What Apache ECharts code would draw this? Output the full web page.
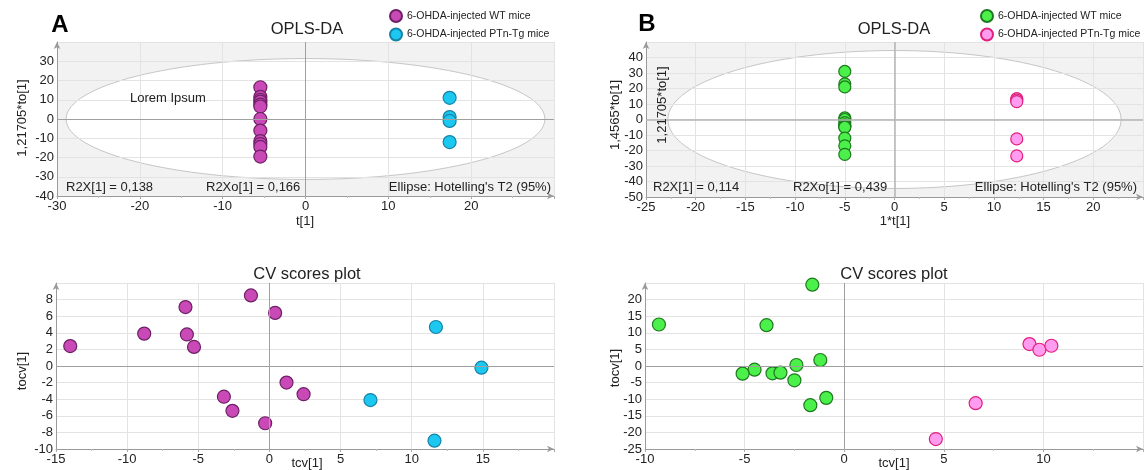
<!DOCTYPE html>
<html>
<head>
<meta charset="utf-8">
<script src="https://cdn.jsdelivr.net/npm/echarts@6/dist/echarts.min.js"></script>
<style>
  html, body { margin: 0; padding: 0; background: #fff; }
  #main { width: 1144px; height: 470px; }
</style>
</head>
<body>
<div id="main"></div>
<script>
// OPLS-DA scores, panel A (t[1] is the same for a whole group)
const aWtT = -5.45;
const aWtTo = [16.5, 11.5, 10, 9, 7.5, 6.5, 0, -6, -11.5, -13, -14.5, -19.5];
const aTgT = 17.4;
const aTgTo = [11, 1, -1, -12];
// OPLS-DA scores, panel B
const bWtT = -5;
const bWtTo = [31, 23, 21, 1, 0, -2, -3.5, -4.5, -5, -12, -17, -22.5];
const bTgT = 12.3;
const bTgTo = [13.5, 12.5, 11.5, -12.5, -23.5];
// Hotelling's T2 ellipse: center x, center y, radius x, radius y
const aEllipse = [0, 0, 28.9, 31.4];
const bEllipse = [0, 0, 22.8, 44.5];
// CV scores, panel A
const aCvWtX = [-14, -8.8, -5.9, -5.8, -5.3, -1.3, 0.4, 1.2, 2.4, -3.2, -2.6, -0.3];
const aCvWtY = [2.4, 3.9, 7.1, 3.8, 2.3, 8.5, 6.4, -2, -3.4, -3.7, -5.4, -6.9];
const aCvTgX = [11.7, 14.9, 7.1, 11.6];
const aCvTgY = [4.7, -0.2, -4.1, -9];
// CV scores, panel B
const bCvWtX = [-9.3, -1.6, -3.9, -1.2, -2.4, -4.5, -5.1, -3.6, -3.2, -2.5, -1.7, -0.9];
const bCvWtY = [12.5, 24.5, 12.3, 1.8, 0.3, -1.1, -2.3, -2.2, -2, -4.3, -11.8, -9.6];
const bCvTgX = [9.3, 9.8, 10.4, 6.6, 4.6];
const bCvTgY = [6.6, 4.9, 6.1, -11.2, -22];
// axis ranges [min, max, interval]
const aX = [-30, 30, 10], aY = [-40, 40, 10];
const bX = [-25, 25, 5], bY = [-50, 50, 10];
const aCvX = [-15, 20, 5], aCvY = [-10, 10, 2];
const bCvX = [-10, 15, 5], bCvY = [-25, 25, 5];
const groupNames = ['6-OHDA-injected WT mice', '6-OHDA-injected PTn-Tg mice'];

const FONT = '"Liberation Sans", Arial, Helvetica, sans-serif';
const purple = ['#c94ab6', '#6e2066'];
const cyan = ['#1cc8f0', '#1583a8'];
const green = ['#4cf04a', '#1d7a1d'];
const pink = ['#ff9cf0', '#e0207c'];

var myChart = echarts.init(document.getElementById('main'));

function axis(idx, range, isX) {
  return {
    type: 'value', gridIndex: idx,
    min: range[0], max: range[1], interval: range[2],
    axisLine: { onZero: false, symbol: ['none', 'arrow'], symbolSize: [5, 7],
      lineStyle: { color: '#9a9a9a', width: 1 } },
    axisTick: { show: isX, length: 3, lineStyle: { color: '#aaa' } },
    minorTick: { show: isX, splitNumber: 2, length: 2, lineStyle: { color: '#bbb' } },
    axisLabel: { showMaxLabel: false, color: '#222', fontFamily: FONT, fontSize: 13,
      margin: isX ? 4 : 3 },
    splitLine: { show: true, lineStyle: { color: '#e3e3e3', width: 1 } }
  };
}

function pts(xs, ys) {
  return ys.map((y, i) => [Array.isArray(xs) ? xs[i] : xs, y]);
}

function zeroLines(width, color) {
  return {
    silent: true, symbol: 'none', animation: false,
    label: { show: false },
    lineStyle: { color: color, width: width, type: 'solid' },
    data: [{ xAxis: 0 }, { yAxis: 0 }]
  };
}

function scatter(name, idx, data, col, size, mark) {
  const s = {
    name: name, type: 'scatter', xAxisIndex: idx, yAxisIndex: idx,
    data: data, symbolSize: size,
    itemStyle: { color: col[0], borderColor: col[1], borderWidth: 1.2, opacity: 1 }
  };
  if (mark) s.markLine = mark;
  return s;
}

function ellipseItem(params, api) {
  const c = api.coord([api.value(0), api.value(1)]);
  const s = api.size([api.value(2), api.value(3)]);
  const cs = params.coordSys;
  return {
    type: 'group',
    children: [
      { type: 'rect', shape: { x: cs.x, y: cs.y, width: cs.width, height: cs.height },
        style: { fill: '#f2f2f2' } },
      { type: 'ellipse', shape: { cx: c[0], cy: c[1], rx: s[0], ry: s[1] },
        style: { fill: '#fff', stroke: '#c6c6c6', lineWidth: 1 } }
    ]
  };
}

function txt(text, x, y, size, opts) {
  opts = opts || {};
  return {
    type: 'text', x: x, y: y, rotation: opts.rot || 0, z: 100,
    style: {
      text: text, fill: opts.bold ? '#000' : '#222',
      font: (opts.bold ? 'bold ' : '') + size + 'px ' + FONT,
      align: opts.align || 'center', verticalAlign: 'middle'
    }
  };
}

const legendFmt = function (n) {
  return n.indexOf('WT') === 0 ? groupNames[0] : groupNames[1];
};
function legend(left, data) {
  return {
    orient: 'vertical', left: left, top: 9, padding: 0,
    itemWidth: 12, itemHeight: 12, itemGap: 4.5, icon: 'circle',
    textStyle: { fontFamily: FONT, fontSize: 10.5, color: '#222' },
    formatter: legendFmt, data: data
  };
}

const R = Math.PI / 2;

myChart.setOption({
  animation: false,
  grid: [
    { left: 57, top: 42, width: 497, height: 154 },
    { left: 646, top: 42, width: 497, height: 155 },
    { left: 56, top: 283, width: 498, height: 166 },
    { left: 645, top: 283, width: 498, height: 166 }
  ],
  xAxis: [axis(0, aX, true), axis(1, bX, true), axis(2, aCvX, true), axis(3, bCvX, true)],
  yAxis: [axis(0, aY, false), axis(1, bY, false), axis(2, aCvY, false), axis(3, bCvY, false)],
  legend: [
    legend(389, ['WT A', 'Tg A']),
    legend(980, ['WT B', 'Tg B'])
  ],
  series: [
    { type: 'custom', xAxisIndex: 0, yAxisIndex: 0, z: -1, silent: true,
      renderItem: ellipseItem, data: [aEllipse] },
    { type: 'custom', xAxisIndex: 1, yAxisIndex: 1, z: -1, silent: true,
      renderItem: ellipseItem, data: [bEllipse] },
    scatter('WT A', 0, pts(aWtT, aWtTo), purple, 13, zeroLines(1, '#a0a0a0')),
    scatter('Tg A', 0, pts(aTgT, aTgTo), cyan, 13),
    scatter('WT B', 1, pts(bWtT, bWtTo), green, 12, zeroLines(1.5, '#b4b4b4')),
    scatter('Tg B', 1, pts(bTgT, bTgTo), pink, 12),
    scatter('WT A cv', 2, pts(aCvWtX, aCvWtY), purple, 13, zeroLines(1, '#a0a0a0')),
    scatter('Tg A cv', 2, pts(aCvTgX, aCvTgY), cyan, 13),
    scatter('WT B cv', 3, pts(bCvWtX, bCvWtY), green, 13, zeroLines(1, '#a0a0a0')),
    scatter('Tg B cv', 3, pts(bCvTgX, bCvTgY), pink, 13)
  ],
  graphic: [
    txt('A', 60, 25.5, 24, { bold: true }),
    txt('B', 647, 24.5, 24, { bold: true }),
    txt('OPLS-DA', 307, 29, 16.5),
    txt('OPLS-DA', 894, 29, 16.5),
    txt('CV scores plot', 307, 274, 16.5),
    txt('CV scores plot', 894, 274, 16.5),
    txt('Lorem Ipsum', 130, 98, 13, { align: 'left' }),
    txt('R2X[1] = 0,138', 66, 187, 13, { align: 'left' }),
    txt('R2Xo[1] = 0,166', 206, 187, 13, { align: 'left' }),
    txt("Ellipse: Hotelling's T2 (95%)", 551, 187, 13, { align: 'right' }),
    txt('R2X[1] = 0,114', 653, 187, 13, { align: 'left' }),
    txt('R2Xo[1] = 0,439', 793, 187, 13, { align: 'left' }),
    txt("Ellipse: Hotelling's T2 (95%)", 1137, 187, 13, { align: 'right' }),
    txt('1,21705*to[1]', 22, 118, 13, { rot: R }),
    txt('1,4565*to[1]', 615, 115, 13, { rot: R }),
    txt('1,21705*to[1]', 662, 105, 13, { rot: R }),
    txt('t[1]', 305, 221, 13),
    txt('1*t[1]', 895, 221, 13),
    txt('tocv[1]', 22, 371, 13, { rot: R }),
    txt('tocv[1]', 615, 368, 13, { rot: R }),
    txt('tcv[1]', 307, 463, 13),
    txt('tcv[1]', 894, 463, 13)
  ]
});
</script>
</body>
</html>
